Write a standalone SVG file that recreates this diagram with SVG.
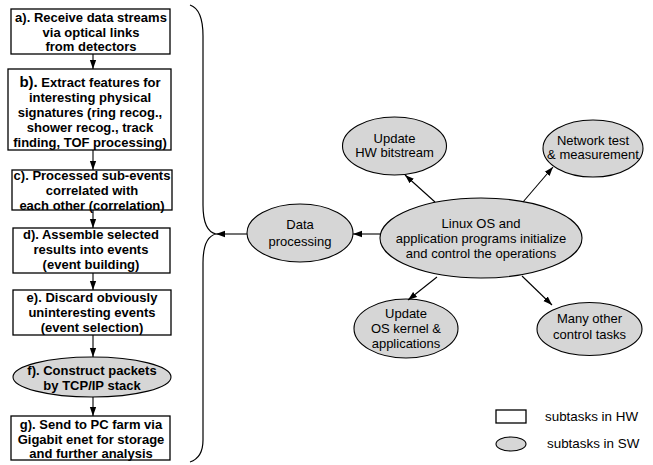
<svg xmlns="http://www.w3.org/2000/svg" width="653" height="465" viewBox="0 0 653 465">
<defs>
<marker id="ah" viewBox="0 0 10 10" refX="10" refY="5" markerWidth="9" markerHeight="9" markerUnits="userSpaceOnUse" orient="auto">
<path d="M0,1.5 L10,5 L0,8.5 z" fill="#000"/>
</marker>
</defs>
<style>
.box{fill:#fff;stroke:#000;stroke-width:1.3}
.sw{fill:#d6d6d6;stroke:#000;stroke-width:1.1}
.hb{font-family:"Liberation Sans",Arial,sans-serif;font-weight:bold;font-size:13px;text-anchor:middle;fill:#000}
.sn{font-family:"Liberation Sans",Arial,sans-serif;font-size:13px;text-anchor:middle;fill:#000}
.lg{font-family:"Liberation Sans",Arial,sans-serif;font-size:13.4px;fill:#000}
.cn{stroke:#000;stroke-width:1.1;fill:none;marker-end:url(#ah)}
</style>
<rect width="653" height="465" fill="#fff"/>

<g id="a">
<rect class="box" x="11" y="9" width="159" height="45"/>
<text class="hb"><tspan x="91" y="22">a). Receive data streams</tspan><tspan x="91" y="37">via optical links</tspan><tspan x="91" y="51">from detectors</tspan></text>
</g>
<g id="b">
<rect class="box" x="8" y="69" width="163" height="81"/>
<text class="hb"><tspan x="90" y="87"><tspan font-size="15">b).</tspan> Extract features for</tspan><tspan x="90" y="102">interesting physical</tspan><tspan x="90" y="117">signatures (ring recog.,</tspan><tspan x="90" y="132">shower recog., track</tspan><tspan x="90" y="147">finding, TOF processing)</tspan></text>
</g>
<g id="c">
<rect class="box" x="12" y="170" width="160" height="40"/>
<text class="hb"><tspan x="92" y="180">c). Processed sub-events</tspan><tspan x="92" y="195">correlated with</tspan><tspan x="92" y="209.5">each other (correlation)</tspan></text>
</g>
<g id="d">
<rect class="box" x="13" y="228" width="157" height="45"/>
<text class="hb"><tspan x="91" y="239">d). Assemble selected</tspan><tspan x="91" y="254">results into events</tspan><tspan x="91" y="269">(event building)</tspan></text>
</g>
<g id="e">
<rect class="box" x="13" y="290" width="158" height="45"/>
<text class="hb"><tspan x="92" y="302">e). Discard obviously</tspan><tspan x="92" y="317">uninteresting events</tspan><tspan x="92" y="332">(event selection)</tspan></text>
</g>
<g id="f">
<ellipse class="sw" cx="92" cy="377" rx="79" ry="20"/>
<text class="hb"><tspan x="92" y="375">f). Construct packets</tspan><tspan x="92" y="390">by TCP/IP stack</tspan></text>
</g>
<g id="g">
<rect class="box" x="11" y="416" width="159" height="44"/>
<text class="hb"><tspan x="91" y="429">g). Send to PC farm via</tspan><tspan x="91" y="444">Gigabit enet for storage</tspan><tspan x="91" y="458">and further analysis</tspan></text>
</g>

<g id="bracket">
<path d="M190,5 C199,8 203,20 203,36 L203,205 C203,222 207,232 216,234 C207,236 203,246 203,263 L203,440 C203,452 199,459 190,462" fill="none" stroke="#000" stroke-width="1.2"/>
</g>

<g id="dataproc">
<ellipse class="sw" cx="300" cy="233" rx="53" ry="29"/>
<text class="sn" font-size="15"><tspan x="300" y="229">Data</tspan><tspan x="300" y="246">processing</tspan></text>
</g>
<g id="hwbit">
<ellipse class="sw" cx="394.5" cy="146" rx="52" ry="29"/>
<text class="sn"><tspan x="394.5" y="143">Update</tspan><tspan x="394.5" y="157">HW bitstream</tspan></text>
</g>
<g id="nettest">
<ellipse class="sw" cx="593" cy="148.5" rx="50" ry="28.5"/>
<text class="sn"><tspan x="593" y="145">Network test</tspan><tspan x="593" y="159">&amp; measurement</tspan></text>
</g>
<g id="linux">
<ellipse class="sw" cx="481" cy="238" rx="101" ry="40"/>
<text class="sn" font-size="13.3"><tspan x="481" y="228">Linux OS and</tspan><tspan x="481" y="243">application programs initialize</tspan><tspan x="481" y="258">and control the operations</tspan></text>
</g>
<g id="oskernel">
<ellipse class="sw" cx="406" cy="328.5" rx="52" ry="29.5"/>
<text class="sn" font-size="13.5"><tspan x="406" y="318">Update</tspan><tspan x="406" y="333">OS kernel &amp;</tspan><tspan x="406" y="348">applications</tspan></text>
</g>
<g id="manyother">
<ellipse class="sw" cx="589.5" cy="329" rx="52.5" ry="26.5"/>
<text class="sn" font-size="14.5"><tspan x="589.5" y="323">Many other</tspan><tspan x="589.5" y="339">control tasks</tspan></text>
</g>

<g id="connectors">
<line class="cn" x1="93" y1="54" x2="93" y2="69"/>
<line class="cn" x1="93" y1="150" x2="93" y2="170"/>
<line class="cn" x1="93" y1="210" x2="93" y2="228"/>
<line class="cn" x1="93" y1="273" x2="93" y2="290"/>
<line class="cn" x1="93" y1="335" x2="93" y2="357"/>
<line class="cn" x1="93" y1="397" x2="93" y2="416"/>
<line class="cn" x1="247" y1="234" x2="216" y2="234"/>
<line class="cn" x1="380" y1="234" x2="353" y2="234"/>
<line class="cn" x1="435" y1="202" x2="405" y2="175"/>
<line class="cn" x1="523" y1="202" x2="553" y2="167"/>
<line class="cn" x1="437" y1="277" x2="408" y2="300"/>
<line class="cn" x1="522" y1="276" x2="552" y2="305"/>
</g>

<g id="legend">
<rect class="box" x="496" y="410" width="30" height="13" stroke-width="1"/>
<text class="lg" x="545" y="421">subtasks in HW</text>
<ellipse class="sw" cx="511" cy="444" rx="15" ry="7"/>
<text class="lg" x="547" y="448">subtasks in SW</text>
</g>
</svg>
